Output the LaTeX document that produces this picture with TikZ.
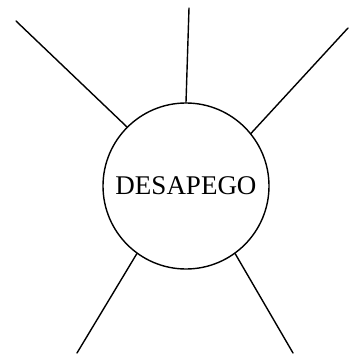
\documentclass[tikz,border=0pt]{standalone}
\usepackage{fontspec}
\setmainfont{Liberation Serif}
\usetikzlibrary{positioning}

\begin{document}
\begin{tikzpicture}[x=1pt, y=-1pt,
  concept/.style={circle, draw=black, line width=1.4pt, minimum size=166pt, inner sep=0pt, align=center, font=\fontsize{27}{30}\selectfont},
  ray/.style={line width=1.4pt, line cap=round}]

\useasboundingbox (0,0) rectangle (350,355);

\node[concept] (desapego) at (186,186) {DESAPEGO};

\coordinate (top) at (189,8);
\coordinate (upleft) at (16,21);
\coordinate (upright) at (348,28);
\coordinate (lowleft) at (77,353);
\coordinate (lowright) at (293,353);

\draw[ray] (top) -- (desapego.90);
\draw[ray] (upleft) -- (desapego.135);
\draw[ray] (upright) -- (desapego.39);
\draw[ray] (lowleft) -- (desapego.234);
\draw[ray] (lowright) -- (desapego.306);

\end{tikzpicture}
\end{document}
